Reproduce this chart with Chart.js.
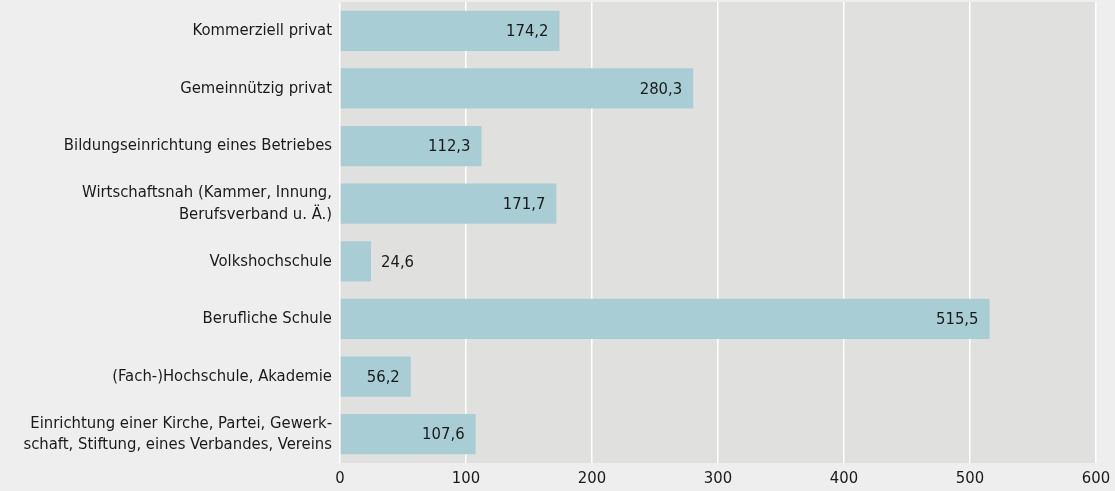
<!DOCTYPE html>
<html>
<head>
<meta charset="utf-8">
<script src="https://cdn.jsdelivr.net/npm/chart.js@4"></script>
<style>
  html, body { margin: 0; padding: 0; background: #eeeeee; }
  #wrap { width: 1115px; height: 491px; }
</style>
</head>
<body>
<div id="wrap"><canvas id="chart"></canvas></div>
<script>
const categories = [
    "Kommerziell privat",
    "Gemeinnützig privat",
    "Bildungseinrichtung eines Betriebes",
    ["Wirtschaftsnah (Kammer, Innung,", "Berufsverband u. Ä.)"],
    "Volkshochschule",
    "Berufliche Schule",
    "(Fach-)Hochschule, Akademie",
    ["Einrichtung einer Kirche, Partei, Gewerk-", "schaft, Stiftung, eines Verbandes, Vereins"]
];
const values = [174.2, 280.3, 112.3, 171.7, 24.6, 515.5, 56.2, 107.6];
const xTicks = [0, 100, 200, 300, 400, 500, 600];

const FONT = '"DejaVu Sans Condensed", "Liberation Sans Narrow", sans-serif';
const SIZE = 16.5;
const fmt = (v) => v.toFixed(1).replace('.', ',');

// grauer Hintergrund der Zeichenfläche
const plotBg = {
    id: 'plotBg',
    beforeDraw(chart) {
        const { ctx, chartArea: a } = chart;
        ctx.save();
        ctx.fillStyle = '#e0e0df';
        ctx.fillRect(a.left, a.top, a.right - a.left, a.bottom - a.top);
        ctx.restore();
    }
};

// Werte am Balkenende
const valueLabels = {
    id: 'valueLabels',
    afterDatasetsDraw(chart) {
        const { ctx } = chart;
        const meta = chart.getDatasetMeta(0);
        ctx.save();
        ctx.font = SIZE + 'px ' + FONT;
        ctx.fillStyle = '#1a1a1a';
        ctx.textBaseline = 'middle';
        meta.data.forEach((bar, i) => {
            const txt = fmt(values[i]);
            const w = ctx.measureText(txt).width;
            const len = bar.x - bar.base;
            if (len > w + 20) {
                ctx.textAlign = 'right';
                ctx.fillText(txt, bar.x - 11, bar.y + 1);
            } else {
                ctx.textAlign = 'left';
                ctx.fillText(txt, bar.x + 10, bar.y + 1);
            }
        });
        ctx.restore();
    }
};

new Chart(document.getElementById('chart'), {
    type: 'bar',
    data: {
        labels: categories,
        datasets: [{
            data: values,
            backgroundColor: '#a8cdd4',
            borderWidth: 0,
            barPercentage: 0.7,
            categoryPercentage: 1.0
        }]
    },
    options: {
        indexAxis: 'y',
        responsive: true,
        maintainAspectRatio: false,
        animation: false,
        layout: { padding: { top: 2, right: 19, left: 0, bottom: 0 } },
        plugins: {
            legend: { display: false },
            tooltip: { enabled: false }
        },
        scales: {
            x: {
                min: 0,
                max: 600,
                afterBuildTicks: (s) => { s.ticks = xTicks.map(v => ({ value: v })); },
                afterFit: (s) => { s.height = 28; s.paddingLeft = 0; s.paddingRight = 0; },
                border: { display: false },
                grid: { color: '#ffffff', lineWidth: 1.5, drawTicks: false },
                ticks: {
                    padding: 6,
                    maxRotation: 0,
                    color: '#1a1a1a',
                    font: { family: FONT, size: SIZE }
                }
            },
            y: {
                afterFit: (s) => { s.width = 340; s.paddingTop = 0; s.paddingBottom = 0; },
                border: { display: false },
                grid: { display: false, drawTicks: false },
                ticks: {
                    padding: 8,
                    color: '#1a1a1a',
                    font: { family: FONT, size: SIZE, lineHeight: 1.3 }
                }
            }
        }
    },
    plugins: [plotBg, valueLabels]
});
</script>
</body>
</html>
